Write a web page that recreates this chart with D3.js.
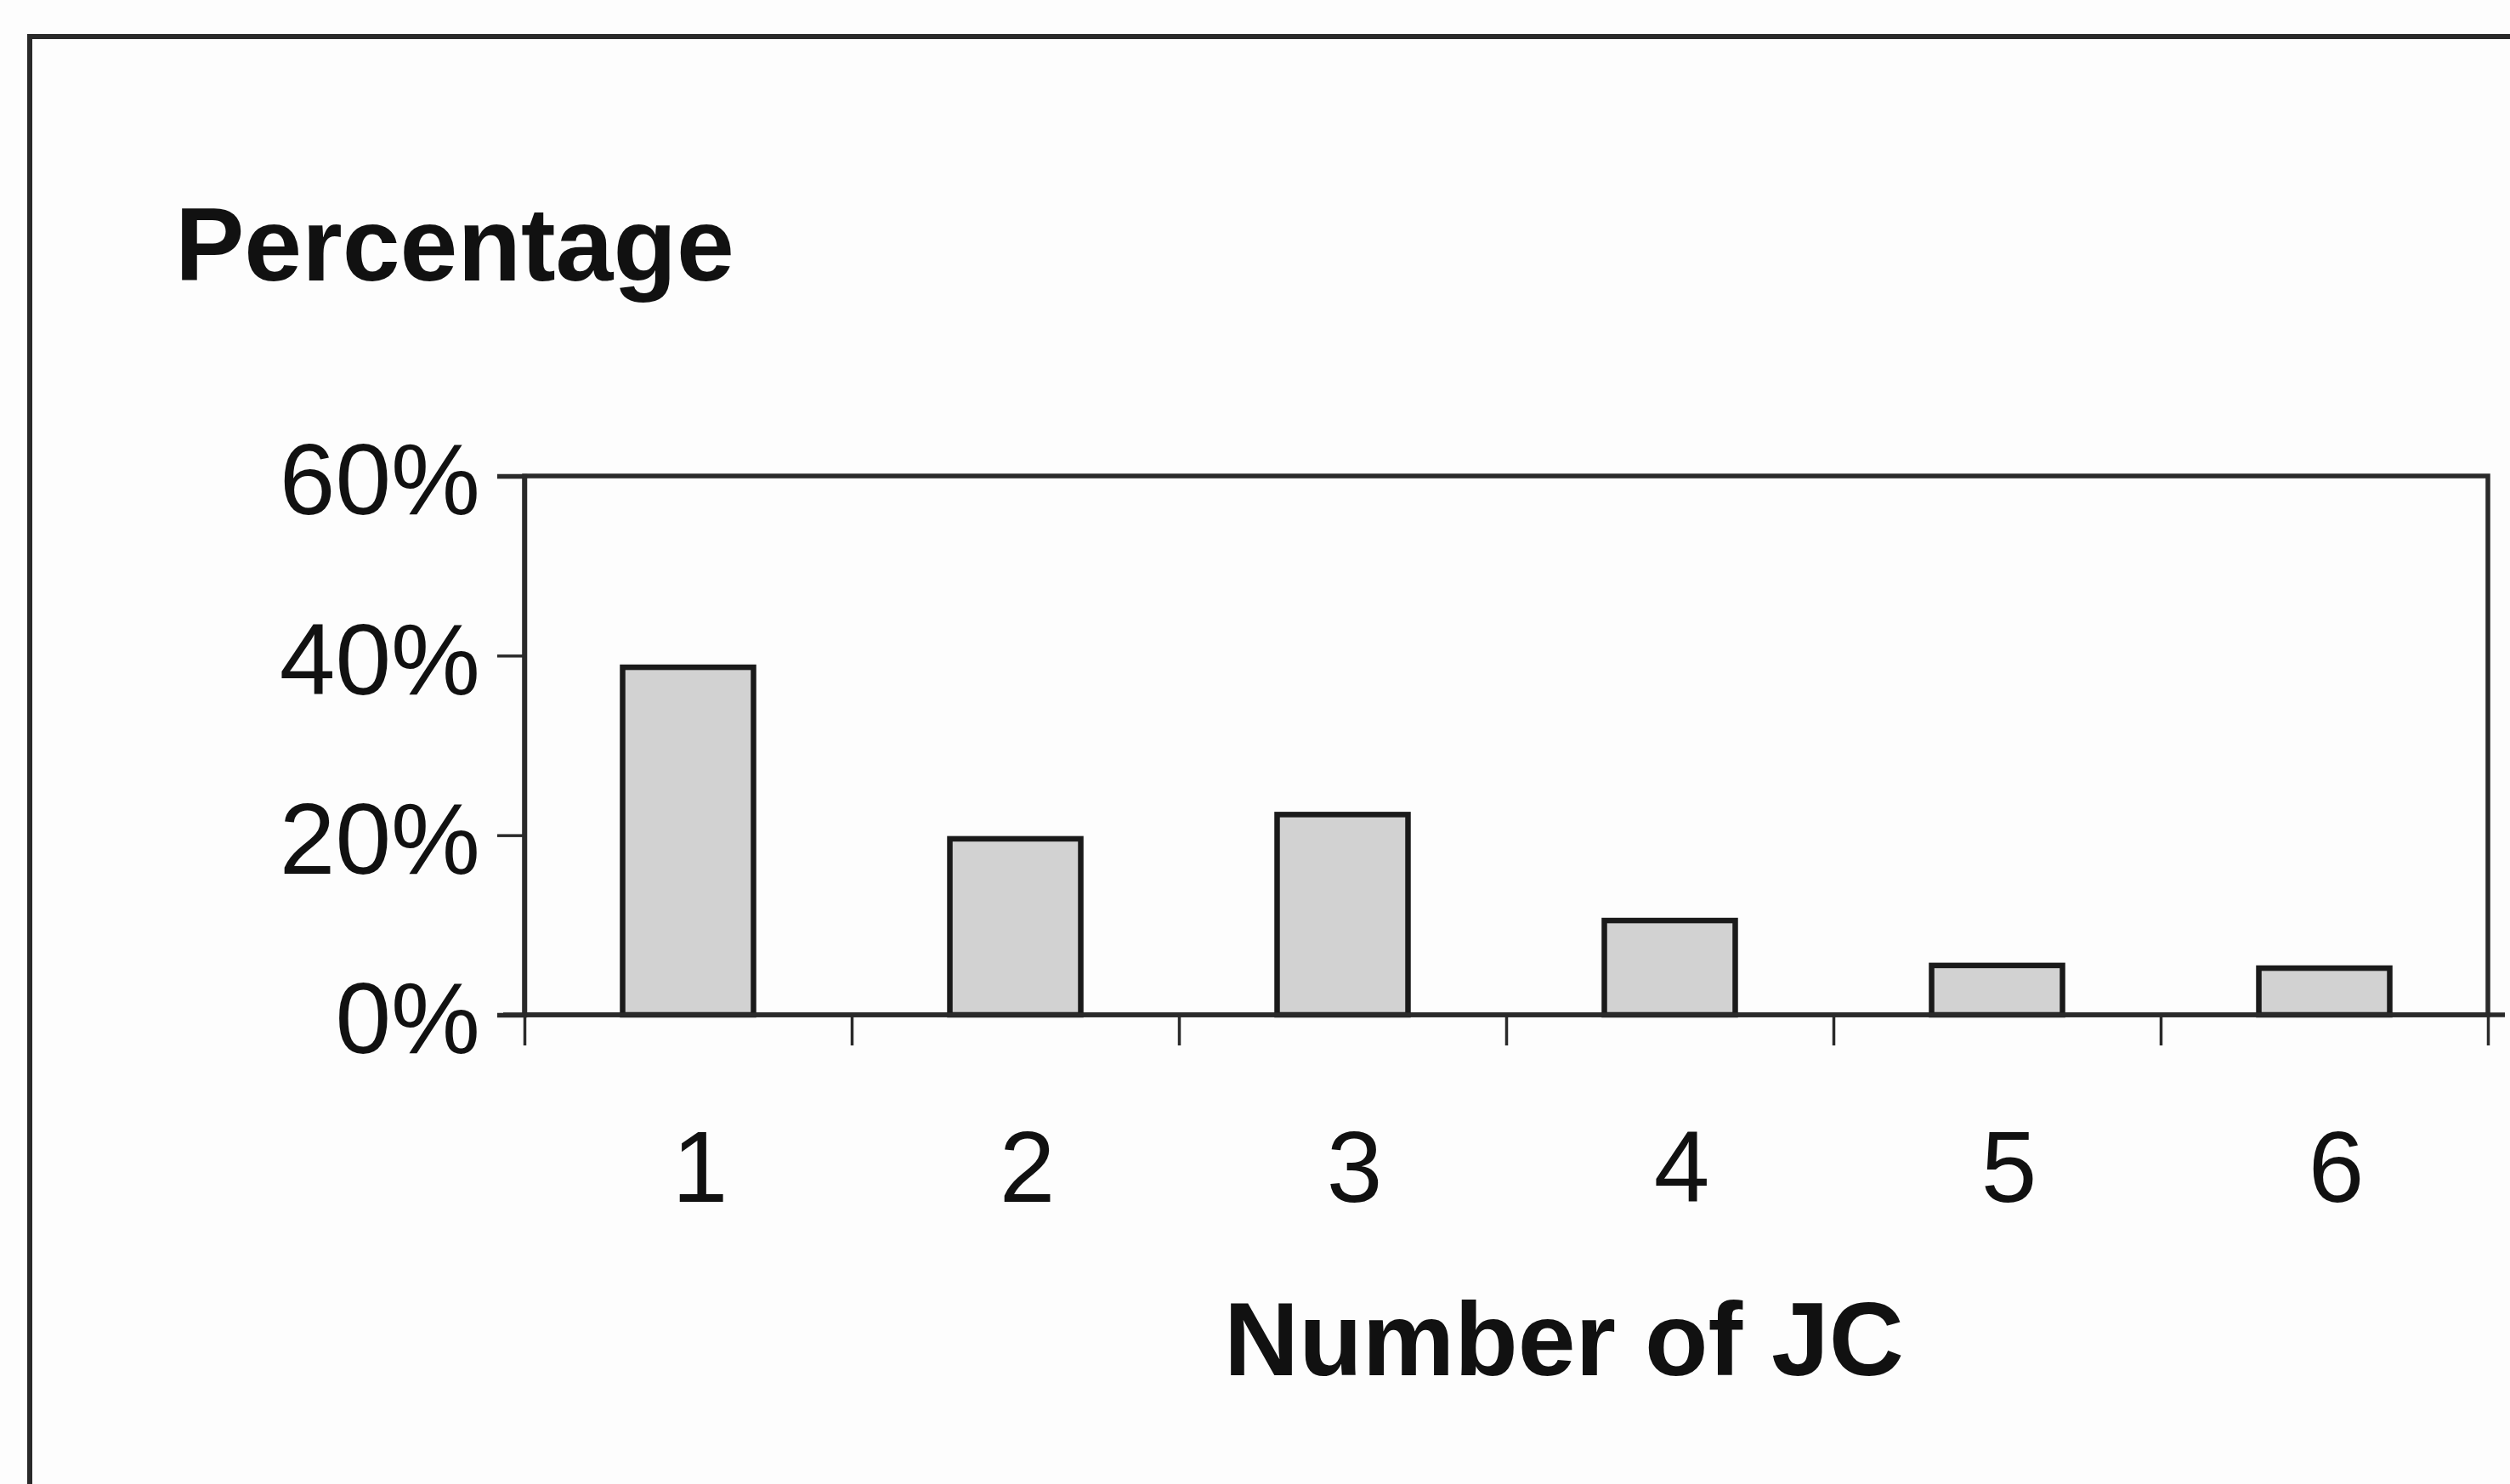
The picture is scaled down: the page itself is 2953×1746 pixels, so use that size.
<!DOCTYPE html>
<html>
<head>
<meta charset="utf-8">
<script src="https://cdn.jsdelivr.net/npm/d3@7"></script>
<style>
  html, body { margin: 0; padding: 0; background: #fdfdfd; }
  svg { display: block; }
  text { font-family: "Liberation Sans", Arial, sans-serif; fill: #111; }
</style>
</head>
<body>
<svg id="chart" width="2953" height="1746"></svg>
<script>
// Data
const categories = ["1", "2", "3", "4", "5", "6"];
const percentages = [0.387, 0.196, 0.223, 0.105, 0.055, 0.052];
const yTickValues = [0, 0.2, 0.4, 0.6];
const yTitle = "Percentage";
const xTitle = "Number of JC";

const W = 2953, H = 1746;
const plot = { left: 617, right: 2927, top: 560, bottom: 1194 };
const ink = "#2a2a2a";

const svg = d3.select("#chart");

// Outer frame (extends beyond the picture at right and bottom)
svg.append("rect")
  .attr("x", 35).attr("y", 43)
  .attr("width", 3100).attr("height", 2000)
  .attr("fill", "none").attr("stroke", ink).attr("stroke-width", 6);

const x = d3.scaleBand().domain(categories).range([plot.left, plot.right])
  .paddingInner(0.6).paddingOuter(0.3);
const xEdges = d3.scaleLinear().domain([0, categories.length]).range([plot.left, plot.right]);
const y = d3.scaleLinear().domain([0, 0.6]).range([plot.bottom, plot.top]);

// Plot area border (top and right)
svg.append("rect")
  .attr("x", plot.left).attr("y", plot.top)
  .attr("width", plot.right - plot.left).attr("height", plot.bottom - plot.top)
  .attr("fill", "none").attr("stroke", ink).attr("stroke-width", 5.5);

// Bars
svg.append("g").selectAll("rect").data(categories).join("rect")
  .attr("x", d => x(d))
  .attr("y", (d, i) => y(percentages[i]))
  .attr("width", x.bandwidth())
  .attr("height", (d, i) => y(0) - y(percentages[i]))
  .attr("fill", "#d2d2d2")
  .attr("stroke", "#1a1a1a")
  .attr("stroke-width", 6.5);

// Y axis
const yAxis = svg.append("g")
  .attr("transform", `translate(${plot.left},0)`)
  .call(d3.axisLeft(y).tickValues(yTickValues).tickFormat(d3.format(".0%"))
    .tickSize(32).tickPadding(20));
yAxis.select(".domain").attr("stroke", ink).attr("stroke-width", 5.5);
yAxis.selectAll(".tick line").attr("stroke", ink).attr("stroke-width", 3.5);
yAxis.selectAll(".tick text")
  .style("font-family", '"Liberation Sans", Arial, sans-serif')
  .style("font-size", "118px").attr("fill", "#111").attr("dy", "0.38em");

// X axis tick marks at category boundaries
const xTicks = svg.append("g")
  .attr("transform", `translate(0,${plot.bottom})`)
  .call(d3.axisBottom(xEdges).ticks(categories.length).tickFormat("").tickSize(36).tickSizeOuter(0));
xTicks.select(".domain").attr("stroke", ink).attr("stroke-width", 5.5)
  .attr("d", `M${plot.left - 25},0H${plot.right + 20}`);
xTicks.selectAll(".tick line").attr("stroke", ink).attr("stroke-width", 3.5);

// X axis labels at category centers
const xLabels = svg.append("g")
  .attr("transform", `translate(14,${plot.bottom})`)
  .call(d3.axisBottom(x).tickSize(0).tickPadding(136));
xLabels.select(".domain").remove();
xLabels.selectAll(".tick text")
  .style("font-family", '"Liberation Sans", Arial, sans-serif')
  .style("font-size", "118px").attr("fill", "#111");

// Titles
svg.append("text")
  .attr("x", 206).attr("y", 330)
  .style("font-size", "122px").style("font-weight", "bold")
  .text(yTitle);

svg.append("text")
  .attr("x", 1840).attr("y", 1618)
  .attr("text-anchor", "middle")
  .style("font-size", "122px").style("font-weight", "bold")
  .text(xTitle);
</script>
</body>
</html>
